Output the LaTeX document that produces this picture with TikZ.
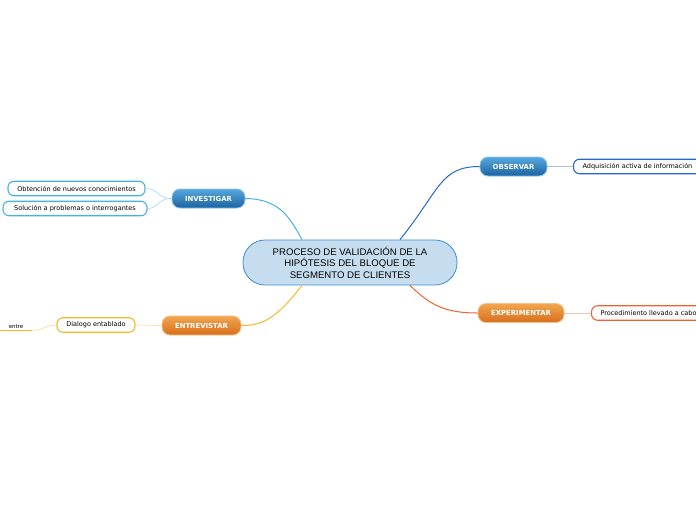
\documentclass[tikz,border=0pt]{standalone}
\usepackage{fontspec}
\setmainfont{DejaVu Sans}
\newfontfamily\titlefont{Liberation Sans}
\usetikzlibrary{calc,positioning}

\definecolor{rootfill}{HTML}{C6DDF0}
\definecolor{rootline}{HTML}{3C8DCF}
\definecolor{invline}{HTML}{45B2E4}
\definecolor{obsline}{HTML}{2468CC}
\definecolor{expline}{HTML}{EF6236}
\definecolor{entline}{HTML}{F5B928}
\definecolor{bluetop}{HTML}{58A8DC}
\definecolor{bluebot}{HTML}{1A62A2}
\definecolor{orangetop}{HTML}{F2A650}
\definecolor{orangebot}{HTML}{D76E1C}

\tikzstyle{central}  = [draw=rootline, fill=rootfill, line width=0.8pt, rounded corners=22pt, minimum width=214pt, minimum height=45pt, align=center, font=\titlefont\fontsize{9.6}{11.6}\selectfont, inner sep=0pt]
\tikzstyle{bluebtn}  = [draw=bluetop!70!white, top color=bluetop, bottom color=bluebot, line width=0.8pt, rounded corners=8pt, minimum height=19pt, text=white, font=\fontsize{6.9}{7}\selectfont\bfseries, inner xsep=0pt]
\tikzstyle{orangebtn}= [draw=orangetop!70!white, top color=orangetop, bottom color=orangebot, line width=0.8pt, rounded corners=8pt, minimum height=19pt, text=white, font=\fontsize{6.9}{7}\selectfont\bfseries, inner xsep=0pt]
\tikzstyle{leaf}     = [fill=white, line width=1.1pt, rounded corners=6pt, minimum height=14.5pt, inner xsep=9pt, font=\fontsize{6.5}{7}\selectfont]
\tikzstyle{branch}   = [line width=1pt]
\tikzstyle{twig}     = [line width=0.7pt]

\begin{document}
\begin{tikzpicture}[x=1pt,y=-1pt]
    \clip (0,0) rectangle (696,520);
    \useasboundingbox (0,0) rectangle (696,520);

    % main topic
    \node[central] (root) at (350,262.5) {PROCESO DE VALIDACIÓN DE LA\\HIPÓTESIS DEL BLOQUE DE\\SEGMENTO DE CLIENTES};

    % subtopics
    \node[bluebtn, minimum width=73pt] (inv) at (208.5,198.5) {INVESTIGAR};
    \node[bluebtn, minimum width=67pt] (obs) at (513.5,166.5) {OBSERVAR};
    \node[orangebtn, minimum width=86pt] (exp) at (521,313) {EXPERIMENTAR};
    \node[orangebtn, minimum width=79pt] (ent) at (201.5,325.5) {ENTREVISTAR};

    % details
    \node[leaf, draw=invline, minimum width=137pt] (inv1) at (76.5,188.5) {Obtención de nuevos conocimientos};
    \node[leaf, draw=invline, minimum width=144pt] (inv2) at (75,208.5) {Solución a problemas o interrogantes};
    \node[leaf, draw=obsline, anchor=west] (obs1) at (573,166.5) {Adquisición activa de información\hspace{8pt}};
    \node[leaf, draw=expline, anchor=west] (exp1) at (591,313) {Procedimiento llevado a cabo\hspace{8pt}};
    \node[leaf, draw=entline, minimum width=78pt] (ent1) at (96,325) {Dialogo entablado};
    \node[font=\fontsize{5.4}{6}\selectfont, minimum width=32pt, inner sep=1.5pt] (entre) at (16,326.5) {entre};

    % branches
    \draw[branch, invline] ([xshift=-48pt]root.north) .. controls (290,218) and (280,199) .. (inv.east);
    \draw[branch, obsline] ([xshift=50pt]root.north) .. controls (440,190) and (440,166.5) .. (obs.west);
    \draw[branch, expline] ([xshift=60pt]root.south) .. controls (430,305) and (445,313) .. (exp.west);
    \draw[branch, entline] ([xshift=-48pt]root.south) .. controls (275,320) and (262,325.5) .. (ent.east);

    % twigs
    \draw[twig, invline!45] (inv.west) .. controls (158,198.5) and (158,188.5) .. (inv1.east);
    \draw[twig, invline!45] (inv.west) .. controls (158,198.5) and (158,208.5) .. (inv2.east);
    \draw[twig, obsline!40] (obs.east) -- (obs1.west);
    \draw[twig, expline!40] (exp.east) -- (exp1.west);
    \draw[twig, entline!45] (ent.west) -- (ent1.east);
    \draw[twig, entline!45] (ent1.west) .. controls (45,325) and (42,331.5) .. (entre.south east);
    \draw[line width=1pt, entline] (entre.south west) -- (entre.south east);
\end{tikzpicture}
\end{document}
